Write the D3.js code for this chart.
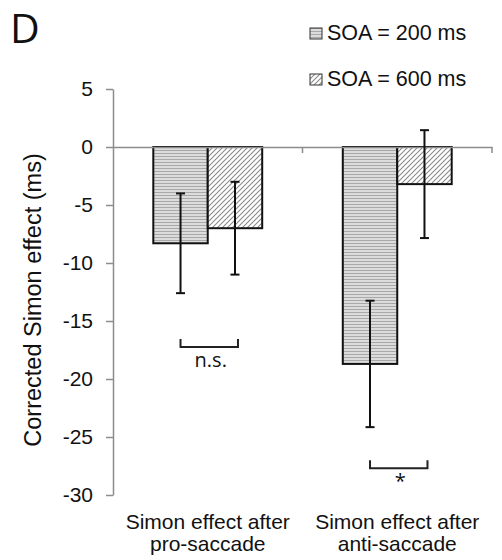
<!DOCTYPE html>
<html>
<head>
<meta charset="utf-8">
<script src="https://cdn.jsdelivr.net/npm/d3@7"></script>
<style>
  body { margin: 0; background: #fff; }
</style>
</head>
<body>
<script>
// chart values
var categories = ["pro-saccade", "anti-saccade"];
var categoryLines = [["Simon effect after", "pro-saccade"], ["Simon effect after", "anti-saccade"]];
var series = ["SOA = 200 ms", "SOA = 600 ms"];
var soa200 = [-8.3, -18.7];
var soa600 = [-7.0, -3.2];
var err200 = [4.3, 5.45];
var err600 = [4.0, 4.65];
var yTicks = [5, 0, -5, -10, -15, -20, -25, -30];
var sigLabels = ["n.s.", "*"];
var sigY = [-16.55, -27.0];

function main(){
    var canvasWidth = 502;
    var canvasHeight = 560;

    var svg = d3.select("body").append("svg")
        .attr("width", canvasWidth)
        .attr("height", canvasHeight)
        .attr("font-family", "'Liberation Sans', Arial, sans-serif");

    // hatch patterns for the two SOA conditions
    var defs = svg.append("defs");
    var hPat = defs.append("pattern")
        .attr("id", "hatchH")
        .attr("patternUnits", "userSpaceOnUse")
        .attr("width", 6)
        .attr("height", 3);
    hPat.append("rect").attr("width", 6).attr("height", 3).attr("fill", "#dcdcdc");
    hPat.append("line").attr("x1", 0).attr("x2", 6).attr("y1", 0.5).attr("y2", 0.5)
        .attr("stroke", "#a8a8a8").attr("stroke-width", 1);

    var dPat = defs.append("pattern")
        .attr("id", "hatchD")
        .attr("patternUnits", "userSpaceOnUse")
        .attr("width", 5)
        .attr("height", 5);
    dPat.append("rect").attr("width", 5).attr("height", 5).attr("fill", "#fff");
    dPat.append("path")
        .attr("d", "M0,5 L5,0 M-1,1 L1,-1 M4,6 L6,4")
        .attr("stroke", "#8a8a8a").attr("stroke-width", 1.1);

    var fills = ["url(#hatchH)", "url(#hatchD)"];

    var yScale = d3.scaleLinear().domain([-30, 5]).range([495, 89]);
    var x0 = d3.scaleBand().domain(categories).range([113, 492]).padding(0);
    var x1 = d3.scaleBand().domain(series).range([0, x0.bandwidth()])
        .paddingInner(0).paddingOuter(0.74);

    var rows = [];
    categories.forEach(function(c, i){
        rows.push({cat: c, s: series[0], v: soa200[i], e: err200[i], k: 0});
        rows.push({cat: c, s: series[1], v: soa600[i], e: err600[i], k: 1});
    });

    // Y axis (plain hyphen minus like the original)
    var yAxis = svg.append("g")
        .attr("transform", "translate(113,0)")
        .call(d3.axisLeft(yScale).tickValues(yTicks).tickSize(7).tickSizeOuter(0).tickPadding(13)
            .tickFormat(function(d){ return String(d); }));
    yAxis.select(".domain").attr("stroke", "#8c8c8c").attr("stroke-width", 1.5);
    yAxis.selectAll(".tick line").attr("stroke", "#8c8c8c").attr("stroke-width", 1.5);
    yAxis.selectAll(".tick text")
        .attr("font-size", "21px")
        .attr("fill", "#111");

    // bars
    svg.selectAll(".bar")
        .data(rows)
        .enter().append("rect")
        .attr("class", "bar")
        .attr("x", function(d){ return x0(d.cat) + x1(d.s); })
        .attr("y", yScale(0))
        .attr("width", x1.bandwidth())
        .attr("height", function(d){ return yScale(d.v) - yScale(0); })
        .attr("fill", function(d){ return fills[d.k]; })
        .attr("stroke", "#111")
        .attr("stroke-width", 2);

    // X axis at zero
    var xAxis = svg.append("g")
        .attr("transform", "translate(0," + yScale(0) + ")")
        .call(d3.axisBottom(x0).tickSize(0).tickSizeOuter(0).tickFormat(""));
    xAxis.select(".domain").attr("stroke", "#8c8c8c").attr("stroke-width", 1.5);
    xAxis.selectAll(".tick").remove();
    xAxis.selectAll(".bound")
        .data(categories)
        .enter().append("line")
        .attr("class", "bound")
        .attr("x1", function(d){ return x0(d) + x0.bandwidth(); })
        .attr("x2", function(d){ return x0(d) + x0.bandwidth(); })
        .attr("y1", 0)
        .attr("y2", 6)
        .attr("stroke", "#8c8c8c")
        .attr("stroke-width", 1.5);

    // error bars
    var cap = 4.5;
    var eb = svg.selectAll(".err")
        .data(rows)
        .enter().append("g")
        .attr("class", "err")
        .attr("stroke", "#111")
        .attr("stroke-width", 2);
    function cx(d){ return x0(d.cat) + x1(d.s) + x1.bandwidth() / 2; }
    eb.append("line")
        .attr("x1", cx).attr("x2", cx)
        .attr("y1", function(d){ return yScale(d.v + d.e); })
        .attr("y2", function(d){ return yScale(d.v - d.e); });
    eb.append("line")
        .attr("x1", function(d){ return cx(d) - cap; })
        .attr("x2", function(d){ return cx(d) + cap; })
        .attr("y1", function(d){ return yScale(d.v + d.e); })
        .attr("y2", function(d){ return yScale(d.v + d.e); });
    eb.append("line")
        .attr("x1", function(d){ return cx(d) - cap; })
        .attr("x2", function(d){ return cx(d) + cap; })
        .attr("y1", function(d){ return yScale(d.v - d.e); })
        .attr("y2", function(d){ return yScale(d.v - d.e); });

    // significance brackets
    var sig = svg.selectAll(".sig")
        .data(categories)
        .enter().append("g")
        .attr("class", "sig");
    sig.append("path")
        .attr("d", function(d, i){
            var a = x0(d) + x1(series[0]) + x1.bandwidth() / 2;
            var b = x0(d) + x1(series[1]) + x1.bandwidth() / 2 + 3;
            var t = yScale(sigY[i]);
            return "M" + a + "," + t + "V" + (t + 8) + "H" + b + "V" + t;
        })
        .attr("fill", "none")
        .attr("stroke", "#222")
        .attr("stroke-width", 2);
    sig.append("text")
        .attr("x", function(d){ return x0(d) + x0.bandwidth() / 2 + 3; })
        .attr("y", function(d, i){ return yScale(sigY[i]) + 28; })
        .attr("text-anchor", "middle")
        .attr("font-family", "'Open Sans', 'Noto Sans', sans-serif")
        .attr("font-size", "20px")
        .attr("fill", "#111")
        .text(function(d, i){ return sigLabels[i]; });

    // category labels, one text per line
    categories.forEach(function(c, i){
        svg.selectAll(".catlab" + i)
            .data(categoryLines[i])
            .enter().append("text")
            .attr("class", "catlab" + i)
            .attr("x", x0(c) + x0.bandwidth() / 2)
            .attr("y", function(d, j){ return 529 + j * 22; })
            .attr("text-anchor", "middle")
            .attr("font-size", "21px")
            .attr("fill", "#111")
            .text(function(d){ return d; });
    });

    // y title
    svg.append("text")
        .attr("transform", "translate(41,300) rotate(-90)")
        .attr("text-anchor", "middle")
        .attr("font-size", "23.5px")
        .attr("fill", "#111")
        .text("Corrected Simon effect (ms)");

    // panel letter
    svg.append("text")
        .attr("x", 10)
        .attr("y", 43)
        .attr("font-family", "'Open Sans', 'Noto Sans', sans-serif")
        .attr("font-size", "41px")
        .attr("fill", "#111")
        .text("D");

    // legend
    var leg = svg.selectAll(".leg")
        .data(series)
        .enter().append("g")
        .attr("class", "leg")
        .attr("transform", function(d, i){ return "translate(310," + (28 + i * 46) + ")"; });
    leg.append("rect")
        .attr("width", 12)
        .attr("height", 11)
        .attr("fill", function(d, i){ return fills[i]; })
        .attr("stroke", "#333")
        .attr("stroke-width", 1);
    leg.append("text")
        .attr("x", 17)
        .attr("y", 12)
        .attr("font-size", "21.5px")
        .attr("fill", "#111")
        .text(function(d){ return d; });
}
main();
</script>
</body>
</html>
